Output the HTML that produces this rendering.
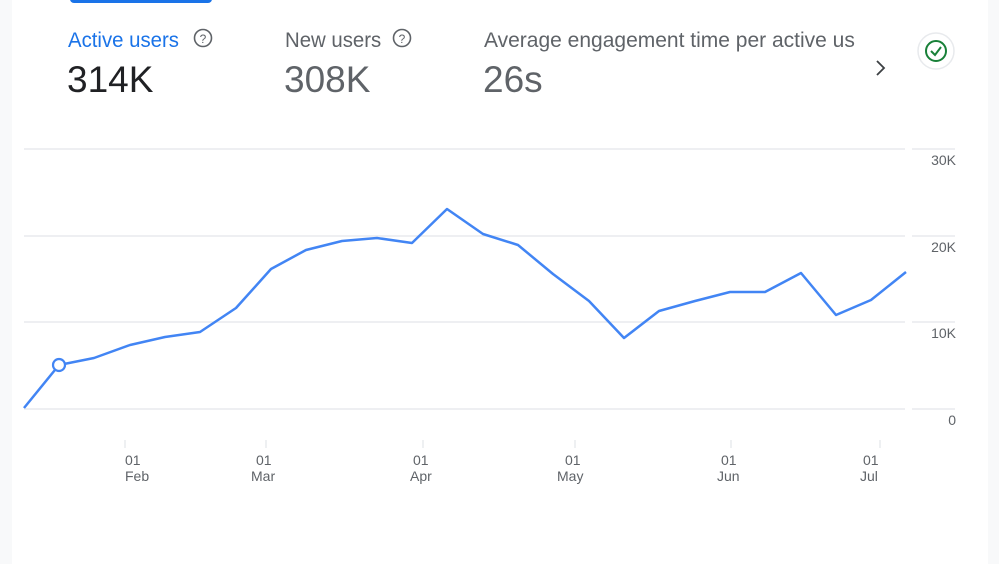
<!DOCTYPE html><html><head><style>
body{margin:0;width:999px;height:564px;background:#f8f9fa;font-family:"Liberation Sans",sans-serif;position:relative;overflow:hidden}
.card{position:absolute;left:12px;top:0;width:976px;height:564px;background:#fff}
.t{position:absolute;white-space:nowrap}
</style></head><body>
<div class="card"></div>
<div style="position:absolute;left:70px;top:-6px;width:142px;height:9px;background:#1a73e8;border-radius:4px"></div>
<div class="t" style="left:68px;top:29px;font-size:21px;color:#1a73e8;transform:scaleX(0.97);transform-origin:left">Active users</div>
<div class="t" style="left:285px;top:29px;font-size:21px;color:#5f6368;transform:scaleX(0.97);transform-origin:left">New users</div>
<div class="t" style="left:484px;top:29px;font-size:21px;color:#5f6368;transform:scaleX(1.0);transform-origin:left">Average engagement time per active us</div>
<svg style="position:absolute;left:0;top:0" width="999" height="564">
<circle cx="203" cy="38" r="8.5" fill="none" stroke="#5f6368" stroke-width="1.6"/>
<text x="203" y="43" font-size="12" text-anchor="middle" fill="#5f6368" font-family="Liberation Sans">?</text>
<circle cx="402" cy="38" r="8.5" fill="none" stroke="#5f6368" stroke-width="1.6"/>
<text x="402" y="43" font-size="12" text-anchor="middle" fill="#5f6368" font-family="Liberation Sans">?</text>
<path d="M877 61 L884 68 L877 75" fill="none" stroke="#3c4043" stroke-width="1.8"/>
<circle cx="936" cy="51" r="18" fill="#fff" stroke="#e8eaed" stroke-width="1.5"/>
<circle cx="936" cy="51" r="10" fill="none" stroke="#188038" stroke-width="2"/>
<path d="M931 51 L935 55 L941 47" fill="none" stroke="#188038" stroke-width="2"/>
<g stroke="#e8eaed" stroke-width="1.5">
<line x1="24" y1="149" x2="905" y2="149"/><line x1="912" y1="149" x2="955" y2="149"/>
<line x1="24" y1="236" x2="905" y2="236"/><line x1="912" y1="236" x2="955" y2="236"/>
<line x1="24" y1="322" x2="905" y2="322"/><line x1="912" y1="322" x2="955" y2="322"/>
<line x1="24" y1="409" x2="905" y2="409"/><line x1="912" y1="409" x2="955" y2="409"/>
<line x1="125" y1="440" x2="125" y2="448"/><line x1="266" y1="440" x2="266" y2="448"/>
<line x1="423" y1="440" x2="423" y2="448"/><line x1="575" y1="440" x2="575" y2="448"/>
<line x1="731" y1="440" x2="731" y2="448"/><line x1="880" y1="440" x2="880" y2="448"/>
</g>
<g font-family="Liberation Sans" font-size="14" fill="#5f6368" text-anchor="end">
<text x="956" y="165">30K</text><text x="956" y="252">20K</text><text x="956" y="338">10K</text><text x="956" y="425">0</text>
</g>
<g font-family="Liberation Sans" font-size="14" fill="#5f6368">
<text x="125" y="465">01</text><text x="125" y="481">Feb</text>
<text x="256" y="465">01</text><text x="251" y="481">Mar</text>
<text x="413" y="465">01</text><text x="410" y="481">Apr</text>
<text x="565" y="465">01</text><text x="557" y="481">May</text>
<text x="721" y="465">01</text><text x="717" y="481">Jun</text>
<text x="863" y="465">01</text><text x="860" y="481">Jul</text>
</g>
<polyline fill="none" stroke="#4285f4" stroke-width="2.5" stroke-linejoin="round" points="24,408 59,365 94,358 130,345 165,337 200,332 236,308 271,269 306,250 342,241 377,238 412,243 447,209 483,234 518,245 553,274 589,301 624,338 659,311 695,301 730,292 765,292 801,273 836,315 871,300 906,272"/>
<circle cx="59" cy="365" r="6" fill="#fff" stroke="#4285f4" stroke-width="2.2"/>
</svg>
<div class="t" style="left:67px;top:59px;font-size:37px;color:#202124">314K</div>
<div class="t" style="left:284px;top:59px;font-size:37px;color:#5f6368">308K</div>
<div class="t" style="left:483px;top:59px;font-size:37px;color:#5f6368">26s</div>
</body></html>
